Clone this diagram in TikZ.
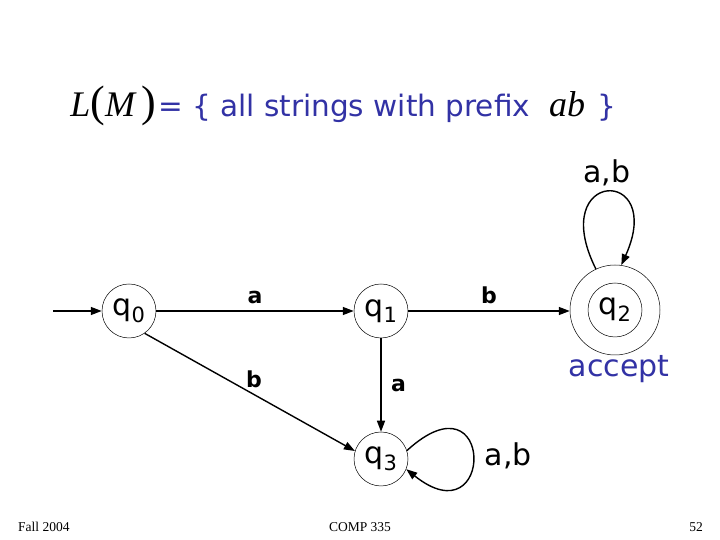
\documentclass[tikz,border=0pt]{standalone}
\usepackage{fontspec}
\setmainfont{DejaVu Sans}
\newfontfamily\footfont{Liberation Serif}
\usepackage{xcolor}
\usepackage{tikz}
\usetikzlibrary{arrows.meta,positioning}
\definecolor{slideblue}{RGB}{50,50,165}
\newcommand{\paren}[1]{{\fontsize{44}{44}\selectfont\upshape #1}}

\begin{document}
\begin{tikzpicture}[x=1pt,y=1pt,>={Triangle[length=11pt,width=8pt]},
state/.style={circle,draw,line width=0.5pt,minimum size=54pt,inner sep=0pt,font=\fontsize{30}{30}\selectfont},
trans/.style={->,line width=1.4pt},
lbl/.style={font=\fontsize{22}{22}\selectfont\bfseries},
big/.style={font=\fontsize{30}{30}\selectfont},
serif/.style={font=\footfont\itshape\fontsize{36}{36}\selectfont}]
\useasboundingbox(0,0)rectangle(720,540);
% title
\node[anchor=base east,serif,inner sep=0pt](lm)at(156,423){L\paren{(}M\,\paren{)}};
\node[anchor=base west,text=slideblue,font=\fontsize{29.5}{29.5}\selectfont,inner sep=0pt](set)at(158,423){= \{ all strings with prefix};
\node[anchor=base west,serif,inner sep=0pt](ab)at(549,423){ab};
\node[anchor=base west,text=slideblue,font=\fontsize{29.5}{29.5}\selectfont,inner sep=0pt](close)at(597,423){\}};
% states
\node[state](q0)at(129,229){q\textsubscript{0}};
\node[state](q1)at(381,229){q\textsubscript{1}};
\node[state](q2)at(615,230){q\textsubscript{2}};
\node[circle,draw,line width=0.5pt,minimum size=90pt](q2o)at(q2){};
\node[state](q3)at(381,81){q\textsubscript{3}};
\coordinate(start)at(53,229);
% transitions
\draw[trans](start)--(q0);
\draw[trans](q0)--node[lbl,above=3pt]{a}(q1);
\draw[trans](q1)--node[lbl,above=3pt]{b}(q1-|q2o.west);
\draw[trans](q0.-55)--node[lbl,above=3pt,pos=0.52]{b}(q3.163);
\draw[trans](q1)--node[lbl,right=6pt]{a}(q3);
\draw[trans](q2o.115)..controls +(-50,100) and +(45,100)..(q2o.82)
node[big,pos=0.5,above=2pt]{a,b};
\draw[trans](q3.18)..controls (495,170) and (495,0)..(q3.-22)
node[big,pos=0.5,right=8pt]{a,b};
\node[big,text=slideblue,below=-3pt of q2o,xshift=4pt](acc){accept};
% footer
\node[anchor=base west,font=\footfont\fontsize{13.5}{13.5}\selectfont,inner sep=0pt](fall)at(18,8){Fall 2004};
\node[anchor=base,font=\footfont\fontsize{13.5}{13.5}\selectfont,inner sep=0pt](comp)at(360,8){COMP 335};
\node[anchor=base east,font=\footfont\fontsize{13.5}{13.5}\selectfont,inner sep=0pt](page)at(703,8){52};
\end{tikzpicture}
\end{document}
